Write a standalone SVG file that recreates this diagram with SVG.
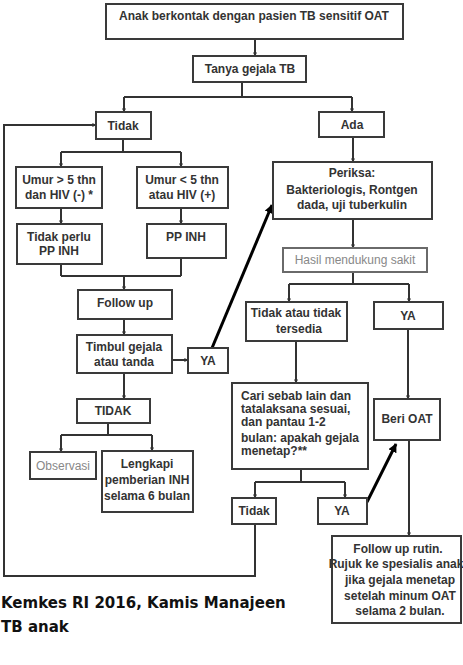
<svg xmlns="http://www.w3.org/2000/svg" width="463" height="665" viewBox="0 0 463 665">
<defs>
<marker id="ah" viewBox="0 0 10 10" refX="9" refY="5" markerWidth="4" markerHeight="4" orient="auto" markerUnits="userSpaceOnUse">
<path d="M0,0 L10,5 L0,10 z" fill="#333"/>
</marker>
<marker id="ahb" viewBox="0 0 10 10" refX="9" refY="5" markerWidth="9" markerHeight="9" orient="auto" markerUnits="userSpaceOnUse">
<path d="M0,0 L10,5 L0,10 z" fill="#000"/>
</marker>
<style>
.box{fill:#fff;stroke:#3a3a3a;stroke-width:2}
.gbox{fill:#fff;stroke:#6a6a6a;stroke-width:2}
.t{font-family:"Liberation Sans",Arial,sans-serif;font-size:12px;font-weight:bold;fill:#333;text-anchor:middle}
.tl{font-family:"Liberation Sans",Arial,sans-serif;font-size:12px;font-weight:bold;fill:#333}
.g{font-family:"Liberation Sans",Arial,sans-serif;font-size:12px;fill:#888;text-anchor:middle}
.c{fill:none;stroke:#333;stroke-width:2}
.ca{fill:none;stroke:#333;stroke-width:2;marker-end:url(#ah)}
.cb{fill:none;stroke:#000;stroke-width:3;marker-end:url(#ahb)}
.foot{font-family:"DejaVu Sans",Verdana,sans-serif;font-size:15px;font-weight:bold;fill:#111}
</style>
</defs>
<rect width="463" height="665" fill="#fff"/>
<g id="connectors">
<path class="ca" d="M255,39 V56"/>
<path class="c" d="M242,82 V97 M124,97 H352"/>
<path class="ca" d="M124,97 V112"/>
<path class="ca" d="M352,97 V112"/>
<path class="c" d="M123,139 V152 M61,152 H181"/>
<path class="ca" d="M61,152 V167"/>
<path class="ca" d="M181,152 V167"/>
<path class="ca" d="M61,208 V224"/>
<path class="ca" d="M181,208 V224"/>
<path class="c" d="M61,264 V276 M181,258 V276 M61,276 H181"/>
<path class="ca" d="M124,276 V290"/>
<path class="ca" d="M124,319 V335"/>
<path class="ca" d="M172,360 H188"/>
<path class="cb" d="M212,348 L272,205"/>
<path class="ca" d="M124,373 V399"/>
<path class="c" d="M108,423 V435 M61,435 H152"/>
<path class="ca" d="M61,435 V452"/>
<path class="ca" d="M152,435 V451"/>
<path class="ca" d="M255,524 V576 H4 V125 H96"/>
<path class="ca" d="M353,137 V162"/>
<path class="ca" d="M353,219 V248"/>
<path class="c" d="M353,272 V284 M289,284 H409"/>
<path class="ca" d="M289,284 V302"/>
<path class="ca" d="M409,284 V302"/>
<path class="ca" d="M296,341 V383"/>
<path class="ca" d="M408,329 V399"/>
<path class="c" d="M301,469 V482 M255,482 H345"/>
<path class="ca" d="M255,482 V498"/>
<path class="ca" d="M345,482 V498"/>
<path class="cb" d="M367,502 L396,444"/>
<path class="ca" d="M409,440 V536"/>
</g>
<g id="n-start"><rect class="box" x="106" y="4" width="297" height="35"/><text class="t" x="254" y="20">Anak berkontak dengan pasien TB sensitif OAT</text></g>
<g id="n-tanya"><rect class="box" x="193" y="56" width="113" height="26"/><text class="t" x="250" y="73">Tanya gejala TB</text></g>
<g id="n-tidak"><rect class="box" x="96" y="112" width="55" height="27"/><text class="t" x="123" y="130">Tidak</text></g>
<g id="n-ada"><rect class="box" x="319" y="112" width="65" height="25"/><text class="t" x="352" y="129">Ada</text></g>
<g id="n-umur5"><rect class="box" x="16" y="167" width="86" height="41"/><text class="t" x="59" y="184">Umur &gt; 5 thn</text><text class="t" x="59" y="199">dan HIV (-) *</text></g>
<g id="n-umurk5"><rect class="box" x="137" y="167" width="91" height="41"/><text class="t" x="182" y="184">Umur &lt; 5 thn</text><text class="t" x="182" y="199">atau HIV (+)</text></g>
<g id="n-tidakperlu"><rect class="box" x="17" y="224" width="85" height="40"/><text class="t" x="59" y="241">Tidak perlu</text><text class="t" x="59" y="255">PP INH</text></g>
<g id="n-ppinh"><rect class="box" x="147" y="224" width="79" height="34"/><text class="t" x="186" y="241">PP INH</text></g>
<g id="n-followup"><rect class="box" x="78" y="290" width="94" height="29"/><text class="t" x="125" y="307">Follow up</text></g>
<g id="n-timbul"><rect class="box" x="77" y="335" width="95" height="38"/><text class="t" x="124" y="351">Timbul gejala</text><text class="t" x="124" y="366">atau tanda</text></g>
<g id="n-ya1"><rect class="box" x="188" y="348" width="40" height="25"/><text class="t" x="208" y="365">YA</text></g>
<g id="n-tidak2"><rect class="box" x="77" y="399" width="73" height="24"/><text class="t" x="113" y="415">TIDAK</text></g>
<g id="n-observasi"><rect class="box" x="30" y="452" width="66" height="27"/><text class="g" x="63" y="470">Observasi</text></g>
<g id="n-lengkapi"><rect class="box" x="102" y="451" width="91" height="61"/><text class="t" x="147" y="468">Lengkapi</text><text class="t" x="147" y="484">pemberian INH</text><text class="t" x="147" y="500">selama 6 bulan</text></g>
<g id="n-periksa"><rect class="box" x="273" y="162" width="159" height="57"/><text class="t" x="352" y="177">Periksa:</text><text class="t" x="352" y="194">Bakteriologis, Rontgen</text><text class="t" x="352" y="209">dada, uji tuberkulin</text></g>
<g id="n-hasil"><rect class="gbox" x="283" y="248" width="144" height="24"/><text class="g" x="355" y="264">Hasil mendukung sakit</text></g>
<g id="n-tidakatau"><rect class="box" x="246" y="302" width="101" height="39"/><text class="t" x="296" y="317">Tidak atau tidak</text><text class="t" x="299" y="333">tersedia</text></g>
<g id="n-ya2"><rect class="box" x="374" y="302" width="69" height="27"/><text class="t" x="408" y="320">YA</text></g>
<g id="n-cari"><rect class="box" x="232" y="383" width="136" height="86"/><text class="tl" x="241" y="400">Cari sebab lain dan</text><text class="tl" x="241" y="413">tatalaksana sesuai,</text><text class="tl" x="241" y="426">dan pantau 1-2</text><text class="tl" x="241" y="442">bulan: apakah gejala</text><text class="tl" x="241" y="455">menetap?**</text></g>
<g id="n-beri"><rect class="box" x="374" y="399" width="66" height="41"/><text class="t" x="407" y="423">Beri OAT</text></g>
<g id="n-tidak3"><rect class="box" x="232" y="498" width="44" height="26"/><text class="t" x="254" y="515">Tidak</text></g>
<g id="n-ya3"><rect class="box" x="318" y="498" width="49" height="26"/><text class="t" x="342" y="515">YA</text></g>
<g id="n-rutin"><rect class="box" x="332" y="536" width="129" height="87"/><text class="t" x="398" y="553">Follow up rutin.</text><text class="t" x="396" y="568" font-size="10.5">Rujuk ke spesialis anak</text><text class="t" x="400" y="584">jika gejala menetap</text><text class="t" x="400" y="600">setelah minum OAT</text><text class="t" x="400" y="615">selama 2 bulan.</text></g>
<g id="footer"><text class="foot" x="1" y="608">Kemkes RI 2016, Kamis Manajeen</text><text class="foot" x="1" y="632">TB anak</text></g>
</svg>
